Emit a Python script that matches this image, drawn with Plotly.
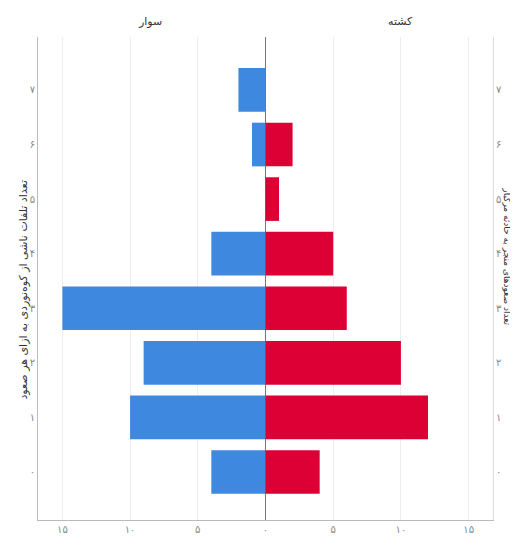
import plotly.graph_objects as go

categories = [0, 1, 2, 3, 4, 5, 6, 7]
cat_labels = ["۰", "۱", "۲", "۳", "۴", "۵", "۶", "۷"]
left_values = [4, 10, 9, 15, 4, 0, 1, 2]
right_values = [4, 12, 10, 6, 5, 1, 2, 0]
x_tickvals = [-15, -10, -5, 0, 5, 10, 15]
x_ticktext = ["۱۵", "۱۰", "۵", "۰", "۵", "۱۰", "۱۵"]
left_name = "سوار"
right_name = "کشته"
left_title = "تعداد تلفات ناشی از کوه‌نوردی به ازای هر صعود"
right_title = "تعداد صعودهای منجر به حادثه مرگبار"

FONT = "DejaVu Sans"
BLUE = "#3f88e0"
RED = "#dd0035"

fig = go.Figure()
fig.add_trace(go.Bar(
    y=categories, x=[-v for v in left_values], orientation="h",
    marker=dict(color=BLUE, line=dict(width=0)), name=left_name,
))
fig.add_trace(go.Bar(
    y=categories, x=right_values, orientation="h",
    marker=dict(color=RED, line=dict(width=0)), name=right_name,
))
fig.add_trace(go.Scatter(
    y=categories, x=[0] * len(categories), yaxis="y2", mode="markers",
    marker=dict(opacity=0), showlegend=False, hoverinfo="skip",
))

fig.update_layout(
    width=510, height=543,
    margin=dict(l=30, r=25, t=29, b=31),
    barmode="relative", bargap=0.2,
    showlegend=False,
    plot_bgcolor="white", paper_bgcolor="white",
    font=dict(family=FONT, color="#888888", size=10),
    xaxis=dict(
        range=[-16.8, 16.8], tickvals=x_tickvals, ticktext=x_ticktext,
        showgrid=True, gridcolor="#eeeeee", gridwidth=1,
        zeroline=True, zerolinecolor="#777777", zerolinewidth=1,
        showline=True, linecolor="#bbbbbb", mirror=False,
        ticks="", tickfont=dict(size=10, color="#888888"),
        automargin=False,
    ),
    yaxis=dict(
        range=[-0.88, 7.97], tickvals=categories, ticktext=cat_labels,
        showgrid=False, zeroline=False,
        showline=True, linecolor="#bbbbbb",
        ticks="", tickfont=dict(size=10, color="#888888"),
        automargin=False,
    ),
    yaxis2=dict(
        range=[-0.88, 7.97], tickvals=categories, ticktext=cat_labels,
        overlaying="y", side="right", showgrid=False, zeroline=False,
        showline=True, linecolor="#dddddd",
        ticks="", tickfont=dict(size=10, color="#888888"),
        automargin=False,
    ),
    annotations=[
        dict(text=left_name, x=-8.5, y=1.0, xref="x", yref="paper",
             yanchor="bottom", yshift=7, showarrow=False,
             font=dict(size=11, color="#333333", family=FONT)),
        dict(text=right_name, x=10, y=1.0, xref="x", yref="paper",
             yanchor="bottom", yshift=7, showarrow=False,
             font=dict(size=11, color="#333333", family=FONT)),
        dict(text=left_title, x=0.0, y=0.476, xref="paper", yref="paper",
             xshift=-23, textangle=-90, showarrow=False,
             font=dict(size=11, color="#333333", family=FONT)),
        dict(text=right_title, x=1.0, y=0.547, xref="paper", yref="paper",
             xshift=22, textangle=90, showarrow=False,
             font=dict(size=9, color="#333333", family=FONT)),
    ],
)

fig.write_html("out.html")
